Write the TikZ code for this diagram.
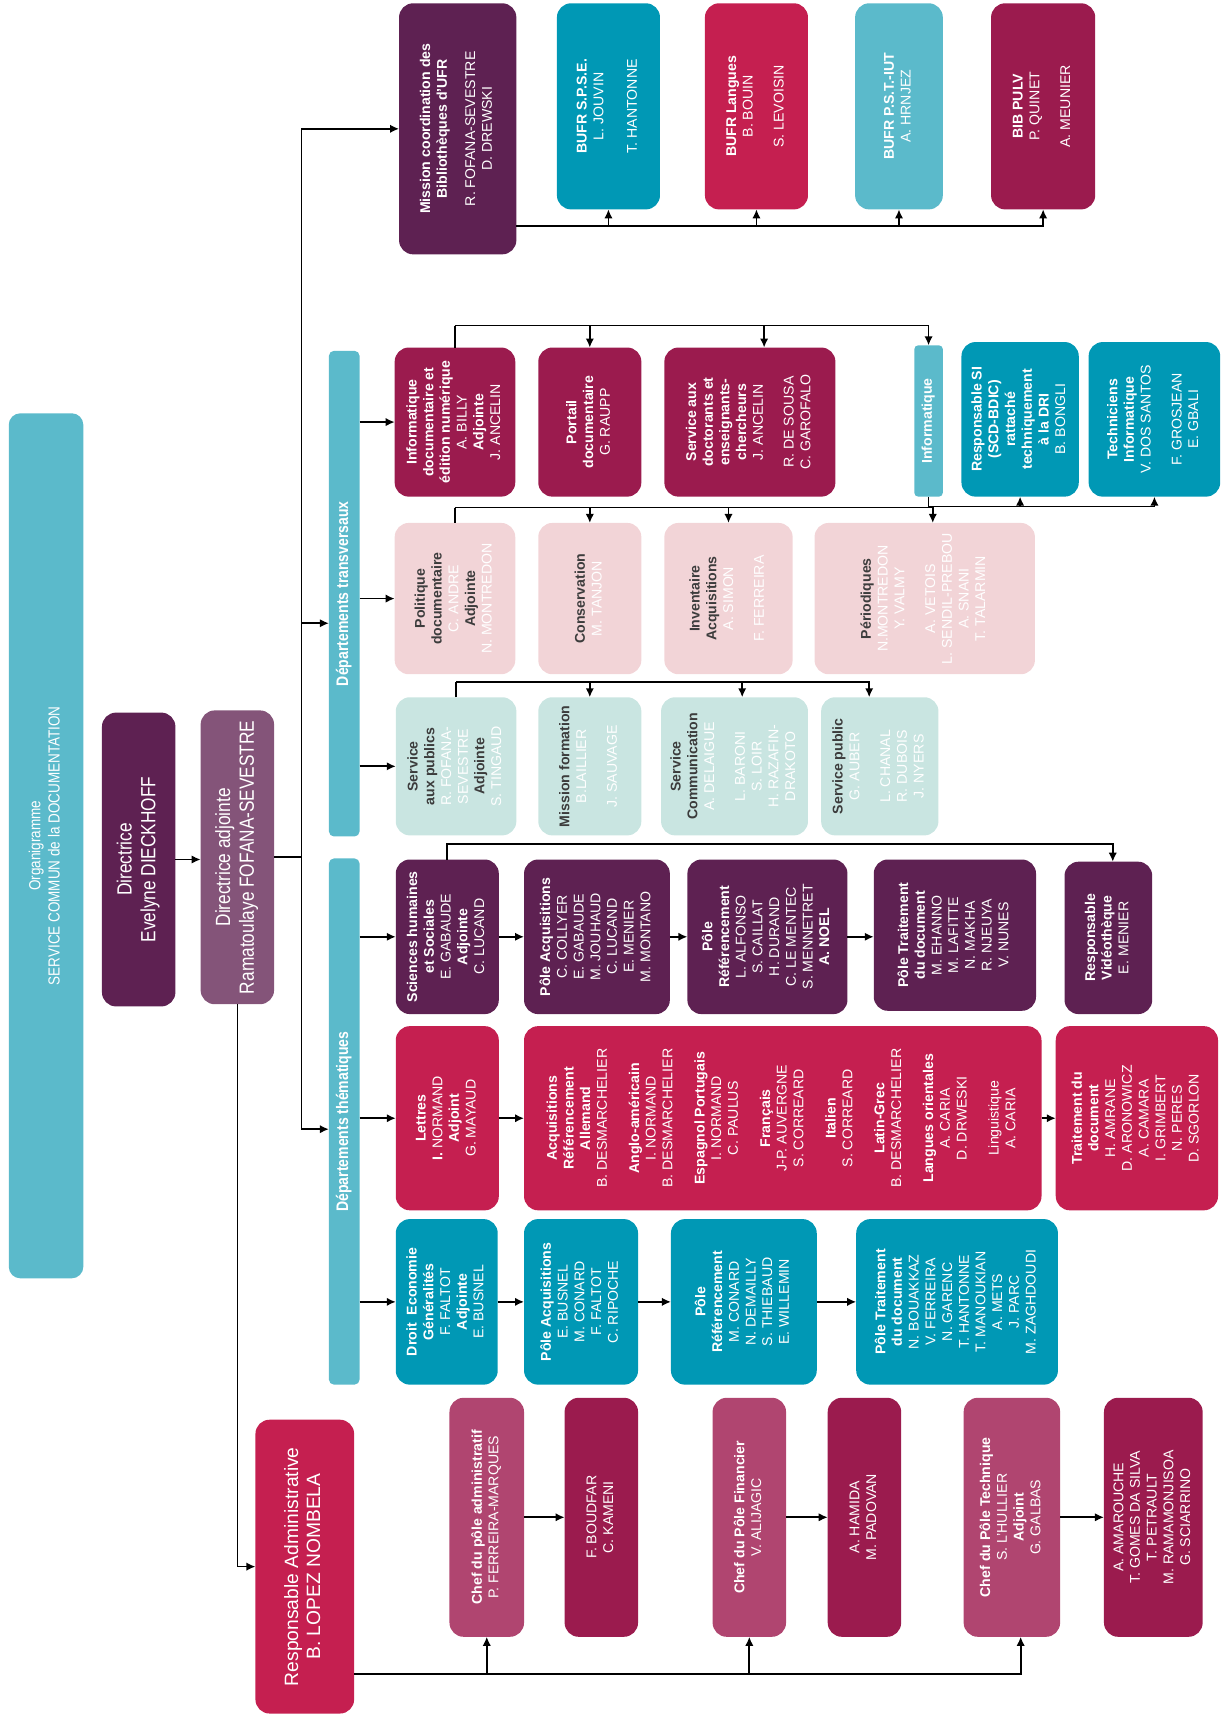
\documentclass[tikz,border=0pt]{standalone}
\usepackage{fontspec}
\setmainfont{Liberation Sans}
\newfontfamily\narrowfont[FakeStretch=0.84]{Liberation Sans}
\usepackage{graphicx}
\usepackage{xcolor}
\usepackage{tikz}
\usetikzlibrary{arrows.meta}

\definecolor{sky}{HTML}{5BBACB}
\definecolor{orgteal}{HTML}{0098B5}
\definecolor{crim}{HTML}{C51F50}
\definecolor{burg}{HTML}{9B1B4E}
\definecolor{purp}{HTML}{5E2152}
\definecolor{mauve}{HTML}{845479}
\definecolor{rose}{HTML}{B04570}
\definecolor{palepink}{HTML}{F2D4D7}
\definecolor{mint}{HTML}{C9E5E1}
\definecolor{txtdark}{HTML}{3C3C3C}

\newcommand\rottext[1]{\rotatebox{90}{\begin{tabular}{@{}c@{}}#1\end{tabular}}}
\newcommand\wh[1]{\textcolor{white}{#1}}

\begin{document}
\begin{tikzpicture}[x=0.03cm,y=-0.03cm,
    box/.style={rounded corners=11pt,inner sep=0pt,outer sep=0pt,text=white,font=\fontsize{11}{13}\selectfont},
    pale/.style={box,text=txtdark},
    link/.style={line width=1.3pt},
    arr/.style={line width=1.3pt,-{Latex[length=7pt,width=6.5pt]}}]
  \useasboundingbox (0,0) rectangle (1116,1568);

  % direction
  \node[box,fill=sky,rounded corners=9pt,minimum width=2.04cm,minimum height=23.67cm,font=\narrowfont\fontsize{12.5}{15}\selectfont] (titre) at (42,771.5) {\rottext{Organigramme\\SERVICE COMMUN de la DOCUMENTATION}};
  \node[box,fill=purp,minimum width=2.01cm,minimum height=8.04cm,font=\narrowfont\fontsize{16}{18.5}\selectfont] (dir) at (126.5,784) {\rottext{Directrice\\Evelyne DIECKHOFF}};
  \node[box,fill=mauve,minimum width=2.01cm,minimum height=8.04cm,font=\narrowfont\fontsize{16}{18.5}\selectfont] (adj) at (216.5,782) {\rottext{Directrice adjointe\\Ramatoulaye FOFANA-SEVESTRE}};
  \node[box,fill=sky,rounded corners=4pt,minimum width=0.84cm,minimum height=13.29cm,font=\narrowfont\bfseries\fontsize{13}{15}\selectfont] (transv) at (314,541.5) {\rottext{Départements transversaux}};
  \node[box,fill=sky,rounded corners=4pt,minimum width=0.84cm,minimum height=14.4cm,font=\narrowfont\bfseries\fontsize{13}{15}\selectfont] (them) at (314,1023) {\rottext{Départements thématiques}};

  % bibliotheques d'UFR
  \node[box,fill=purp,minimum width=3.21cm,minimum height=6.87cm] (mission) at (417.5,117.5) {\rottext{\textbf{Mission coordination des}\\\textbf{Bibliothèques d’UFR}\\[9pt]R. FOFANA-SEVESTRE\\D. DREWSKI}};
  \node[box,fill=orgteal,minimum width=2.82cm,minimum height=5.64cm] (bufr1) at (555,97) {\rottext{\textbf{BUFR S.P.S.E.}\\L. JOUVIN\\[13pt]T. HANTONNE}};
  \node[box,fill=crim,minimum width=2.82cm,minimum height=5.64cm] (bufr2) at (690,97) {\rottext{\textbf{BUFR Langues}\\B. BOUIN\\[11pt]S. LEVOISIN}};
  \node[box,fill=sky,minimum width=2.4cm,minimum height=5.64cm] (bufr3) at (820,97) {\rottext{\textbf{BUFR P.S.T.-IUT}\\A. HRNJEZ}};
  \node[box,fill=burg,minimum width=2.85cm,minimum height=5.64cm] (bib) at (951.5,97) {\rottext{\textbf{BIB PULV}\\P. QUINET\\[11pt]A. MEUNIER}};

  % transversaux, ligne 1
  \node[box,fill=burg,minimum width=3.3cm,minimum height=4.08cm] (infodoc) at (415,385) {\rottext{\textbf{Informatique}\\\textbf{documentaire et}\\\textbf{édition numérique}\\A. BILLY\\\textbf{Adjointe}\\J. ANCELIN}};
  \node[box,fill=burg,minimum width=2.82cm,minimum height=4.08cm] (portail) at (538,385) {\rottext{\textbf{Portail}\\\textbf{documentaire}\\G. RAUPP}};
  \node[box,fill=burg,minimum width=4.68cm,minimum height=4.08cm] (doct) at (684,385) {\rottext{\textbf{Service aux}\\\textbf{doctorants et}\\\textbf{enseignants-}\\\textbf{chercheurs}\\J. ANCELIN\\[11pt]R. DE SOUSA\\C. GAROFALO}};
  \node[box,fill=sky,rounded corners=3pt,minimum width=0.78cm,minimum height=4.14cm] (info) at (847,384) {\rottext{\textbf{Informatique}}};
  \node[box,fill=orgteal,minimum width=3.21cm,minimum height=4.23cm] (respsi) at (930.5,382.5) {\rottext{\textbf{Responsable SI}\\\textbf{(SCD-BDIC)}\\\textbf{rattaché}\\\textbf{techniquement}\\\textbf{à la DRI}\\B. BONGLI}};
  \node[box,fill=orgteal,minimum width=3.6cm,minimum height=4.23cm] (techn) at (1053,382.5) {\rottext{\textbf{Techniciens}\\\textbf{Informatique}\\V. DOS SANTOS\\[11pt]F. GROSJEAN\\E. GBALI}};

  % transversaux, ligne 2
  \node[pale,fill=palepink,minimum width=3.3cm,minimum height=4.14cm] (polit) at (415,546) {\rottext{\textbf{Politique}\\\textbf{documentaire}\\\wh{C. ANDRE}\\\textbf{Adjointe}\\\wh{N. MONTREDON}}};
  \node[pale,fill=palepink,minimum width=2.82cm,minimum height=4.14cm] (conserv) at (538,546) {\rottext{\textbf{Conservation}\\\wh{M. TANJON}}};
  \node[pale,fill=palepink,minimum width=3.51cm,minimum height=4.14cm] (invent) at (664.5,546) {\rottext{\textbf{Inventaire}\\\textbf{Acquisitions}\\\wh{A. SIMON}\\[11pt]\wh{F. FERREIRA}}};
  \node[pale,fill=palepink,minimum width=6.03cm,minimum height=4.14cm] (period) at (843.5,546) {\rottext{\textbf{Périodiques}\\\wh{N.MONTREDON}\\\wh{Y. VALMY}\\[11pt]\wh{A. VETOIS}\\\wh{L. SENDIL-PREBOU}\\\wh{A. SNANI}\\\wh{T. TALARMIN}}};

  % transversaux, ligne 3
  \node[pale,fill=mint,minimum width=3.3cm,minimum height=3.78cm] (servpub) at (416,699) {\rottext{\textbf{Service}\\\textbf{aux publics}\\\wh{R. FOFANA-}\\\wh{SEVESTRE}\\\textbf{Adjointe}\\\wh{S. TINGAUD}}};
  \node[pale,fill=mint,minimum width=2.82cm,minimum height=3.78cm] (formation) at (538,699) {\rottext{\textbf{Mission formation}\\\wh{B.LAILLIER}\\[11pt]\wh{J. SAUVAGE}}};
  \node[pale,fill=mint,minimum width=4.02cm,minimum height=3.78cm] (comm) at (670,699) {\rottext{\textbf{Service}\\\textbf{Communication}\\\wh{A. DELAIGUE}\\[11pt]\wh{L. BARONI}\\\wh{S. LOIR}\\\wh{H. RAZAFIN-}\\\wh{DRAKOTO}}};
  \node[pale,fill=mint,minimum width=3.21cm,minimum height=3.78cm] (spublic) at (802.5,699) {\rottext{\textbf{Service public}\\\wh{G. AUBER}\\[11pt]\wh{L. CHANAL}\\\wh{R. DUBOIS}\\\wh{J. NYERS}}};

  % thematiques, sciences humaines
  \node[box,fill=purp,minimum width=2.82cm,minimum height=4.23cm] (shs) at (408,854.5) {\rottext{\textbf{Sciences humaines}\\\textbf{et Sociales}\\E. GABAUDE\\\textbf{Adjointe}\\C. LUCAND}};
  \node[box,fill=purp,minimum width=3.99cm,minimum height=4.23cm] (shsacq) at (544.5,854.5) {\rottext{\textbf{Pôle Acquisitions}\\C. COLLYER\\E. GABAUDE\\M. JOUHAUD\\C. LUCAND\\E. MENIER\\M. MONTANO}};
  \node[box,fill=purp,minimum width=4.38cm,minimum height=4.23cm] (shsref) at (700,854.5) {\rottext{\textbf{Pôle}\\\textbf{Référencement}\\L. ALFONSO\\S. CAILLAT\\H. DURAND\\C. LE MENTEC\\S. MENNETRET\\\textbf{A. NOEL}}};
  \node[box,fill=purp,minimum width=4.44cm,minimum height=4.14cm] (shstrait) at (871,853) {\rottext{\textbf{Pôle Traitement}\\\textbf{du document}\\M. EHANNO\\M. LAFITTE\\N. MAKHA\\R. NJEUYA\\V. NUNES}};
  \node[box,fill=purp,minimum width=2.4cm,minimum height=4.17cm] (video) at (1011,855.5) {\rottext{\textbf{Responsable}\\\textbf{Vidéothèque}\\E. MENIER}};

  % thematiques, lettres
  \node[box,fill=crim,minimum width=2.82cm,minimum height=5.04cm] (lettres) at (408,1020) {\rottext{\textbf{Lettres}\\\textbf{I.} NORMAND\\\textbf{Adjoint}\\G. MAYAUD}};
  \node[box,fill=crim,minimum width=14.16cm,minimum height=5.04cm] (lacq) at (714,1020) {\rottext{\textbf{Acquisitions}\\\textbf{Référencement}\\\textbf{Allemand}\\B. DESMARCHELIER\\[12pt]
    \textbf{Anglo-américain}\\I. NORMAND\\B. DESMARCHELIER\\[12pt]
    \textbf{Espagnol Portugais}\\I. NORMAND\\C. PAULUS\\[12pt]
    \textbf{Français}\\J-P. AUVERGNE\\S. CORREARD\\[12pt]
    \textbf{Italien}\\S. CORREARD\\[12pt]
    \textbf{Latin-Grec}\\B. DESMARCHELIER\\[12pt]
    \textbf{Langues orientales}\\A. CARIA\\D. DRWESKI\\[12pt]
    Linguistique\\A. CARIA}};
  \node[box,fill=crim,minimum width=4.44cm,minimum height=5.04cm] (ltrait) at (1037,1020) {\rottext{\textbf{Traitement du}\\\textbf{document}\\H. AMRANE\\D. ARONOWICZ\\A. CAMARA\\I. GRIMBERT\\N. PERES\\D. SGORLON}};

  % thematiques, droit
  \node[box,fill=orgteal,minimum width=2.79cm,minimum height=4.53cm] (droit) at (407.5,1187.5) {\rottext{\textbf{Droit\ \ Economie}\\\textbf{Généralités}\\F. FALTOT\\\textbf{Adjointe}\\E. BUSNEL}};
  \node[box,fill=orgteal,minimum width=3.12cm,minimum height=4.53cm] (dacq) at (530,1187.5) {\rottext{\textbf{Pôle Acquisitions}\\E. BUSNEL\\M. CONARD\\F. FALTOT\\C. RIPOCHE}};
  \node[box,fill=orgteal,minimum width=3.99cm,minimum height=4.53cm] (dref) at (678.5,1187.5) {\rottext{\textbf{Pôle}\\\textbf{Référencement}\\M. CONARD\\N. DEMAILLY\\S. THIEBAUD\\E. WILLEMIN}};
  \node[box,fill=orgteal,minimum width=5.52cm,minimum height=4.53cm] (dtrait) at (873,1187.5) {\rottext{\textbf{Pôle Traitement}\\\textbf{du document}\\N. BOUAKKAZ\\V. FERREIRA\\N. GARENC\\T. HANTONNE\\T. MANOUKIAN\\A. METS\\J. PARC\\M. ZAGHDOUDI}};

  % administration
  \node[box,fill=crim,minimum width=2.7cm,minimum height=8.04cm,font=\fontsize{15}{17}\selectfont] (respadm) at (278,1429) {\rottext{Responsable Administrative\\B. LOPEZ NOMBELA}};
  \node[box,fill=rose,minimum width=2.04cm,minimum height=6.54cm] (chefadm) at (444,1384) {\rottext{\textbf{Chef du pôle administratif}\\P. FERREIRA-MARQUES}};
  \node[box,fill=burg,minimum width=2.01cm,minimum height=6.54cm] (admteam) at (548.5,1384) {\rottext{F. BOUDFAR\\C. KAMENI}};
  \node[box,fill=rose,minimum width=2.01cm,minimum height=6.54cm] (cheffin) at (683.5,1384) {\rottext{\textbf{Chef du Pôle Financier}\\V. ALIJAGIC}};
  \node[box,fill=burg,minimum width=2.01cm,minimum height=6.54cm] (finteam) at (788.5,1384) {\rottext{A. HAMIDA\\M. PADOVAN}};
  \node[box,fill=rose,minimum width=2.64cm,minimum height=6.54cm] (cheftech) at (923,1384) {\rottext{\textbf{Chef du Pôle Technique}\\S. L’HULLIER\\\textbf{Adjoint}\\G. GALBAS}};
  \node[box,fill=burg,minimum width=2.7cm,minimum height=6.54cm] (techteam) at (1052,1384) {\rottext{A. AMAROUCHE\\T. GOMES DA SILVA\\T. PETRAULT\\M. RAMAMONJISOA\\G. SCIARRINO}};

  % liens de la direction
  \draw[arr] (dir.east) -- (dir.east -| adj.west);
  \draw[link] (adj.east) -- (275,782) coordinate (trunk);
  \draw[arr] (trunk) |- (mission);
  \draw[arr] (trunk) |- ([yshift=-0.81cm]transv.west);
  \draw[arr] (trunk) |- ([yshift=-0.21cm]them.west);
  \draw[arr] (adj.south) |- (respadm);

  \coordinate (mbus) at (mission.east |- 0,206);
  \draw[arr] (mbus) -| (bufr1);
  \draw[arr] (mbus) -| (bufr2);
  \draw[arr] (mbus) -| (bufr3);
  \draw[arr] (mbus) -| (bib);

  \draw[arr] (transv.east |- infodoc) -- (infodoc);
  \draw[arr] (transv.east |- polit) -- (polit);
  \draw[arr] (transv.east |- servpub) -- (servpub);
  \draw[arr] (them.east |- shs) -- (shs);
  \draw[arr] (them.east |- lettres) -- (lettres);
  \draw[arr] (them.east |- droit) -- (droit);

  % liens des departements transversaux
  \draw[link] (infodoc.north) -- ++(0,-20) coordinate (bus1);
  \draw[arr] (bus1) -| (portail);
  \draw[arr] (bus1) -| ([xshift=0.39cm]doct.north);
  \draw[arr] (bus1) -| (info);
  \draw[link] (info.south) -- ++(0,9) coordinate (bus2);
  \draw[arr] (bus2) -| (respsi);
  \draw[arr] (bus2) -| (techn);
  \draw[link] (polit.north) -- ++(0,-14) coordinate (bus3);
  \draw[arr] (bus3) -| (conserv);
  \draw[arr] (bus3) -| (invent);
  \draw[arr] (bus3) -| ([xshift=0.22cm]period.north);
  \draw[link] (servpub.north) -- ++(0,-14) coordinate (bus4);
  \draw[arr] (bus4) -| (formation);
  \draw[arr] (bus4) -| ([xshift=0.21cm]comm.north);
  \draw[arr] (bus4) -| ([xshift=-0.29cm]spublic.north);

  % liens des departements thematiques
  \draw[arr] (shs.north) -- ++(0,-14) -| ([xshift=0.12cm]video.north);
  \draw[arr] (shs) -- (shsacq);
  \draw[arr] (shsacq) -- (shsref);
  \draw[arr] (shsref.east) -- (shsref.east -| shstrait.west);
  \draw[arr] (lettres) -- (lacq);
  \draw[arr] (lacq) -- (ltrait);
  \draw[arr] (droit) -- (dacq);
  \draw[arr] (dacq) -- (dref);
  \draw[arr] (dref) -- (dtrait);

  % liens de l'administration
  \coordinate (abus) at (respadm.east |- 0,1527);
  \draw[arr] (abus) -| (chefadm);
  \draw[arr] (abus) -| (cheffin);
  \draw[arr] (abus) -| ([xshift=0.24cm]cheftech.south);
  \draw[arr] (chefadm) -- (admteam);
  \draw[arr] (cheffin) -- (finteam);
  \draw[arr] (cheftech) -- (techteam);
\end{tikzpicture}
\end{document}
